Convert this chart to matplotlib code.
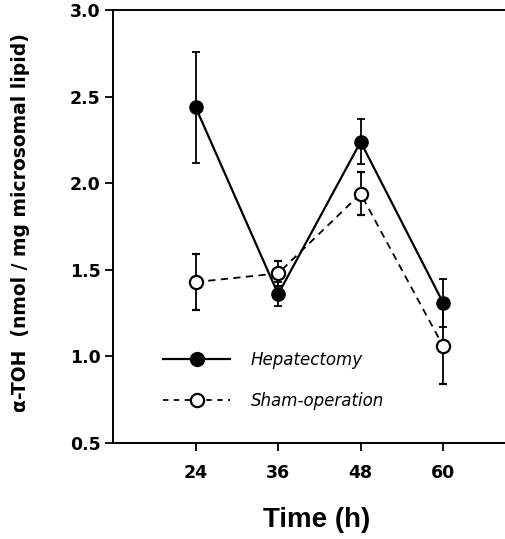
import matplotlib
matplotlib.use('Agg')
import matplotlib.pyplot as plt
from matplotlib.lines import Line2D

plt.rcParams['font.family'] = ['DejaVu Sans']

#data
time_h = [24, 36, 48, 60]
hep_mean = [2.44, 1.36, 2.24, 1.31]
hep_err = [0.32, 0.07, 0.13, 0.14]
sham_mean = [1.43, 1.48, 1.94, 1.06]
sham_err = [0.16, 0.07, 0.125, 0.22]
x_ticks = [24, 36, 48, 60]
y_ticks = [0.5, 1.0, 1.5, 2.0, 2.5, 3.0]

fig = plt.figure(figsize=(5.05, 5.39), dpi=100)
ax = fig.add_axes([0.224, 0.178, 0.776, 0.803])

ax.errorbar(time_h, hep_mean, yerr=hep_err, color='black', marker='o',
            markersize=9.5, markerfacecolor='black', linewidth=1.6,
            elinewidth=1.3, capsize=3, capthick=1.3, zorder=3)
ax.errorbar(time_h, sham_mean, yerr=sham_err, color='black', marker='o',
            markersize=9.5, markerfacecolor='white', markeredgewidth=1.6,
            linestyle='--', dashes=(4, 3), linewidth=1.3,
            elinewidth=1.3, capsize=3, capthick=1.3, zorder=2)

ax.set_xlim(12, 69)
ax.set_ylim(0.5, 3.0)
ax.set_xticks(x_ticks)
ax.set_yticks(y_ticks)
ax.set_yticklabels([f'{v:.1f}' for v in y_ticks])
ax.tick_params(direction='out', length=6, width=1.3, labelsize=12.5)
for lab in ax.get_xticklabels() + ax.get_yticklabels():
    lab.set_fontweight('bold')
ax.tick_params(axis='x', pad=9)
ax.tick_params(axis='y', pad=3)

ax.spines['right'].set_visible(False)
for s in ['left', 'bottom', 'top']:
    ax.spines[s].set_linewidth(1.4)

ax.set_xlabel('Time (h)', fontsize=20, fontweight='bold', family='Liberation Sans')
ax.xaxis.set_label_coords(0.52, -0.148)
ax.set_ylabel('α-TOH  (nmol / mg microsomal lipid)', fontsize=13.5,
              fontweight='bold')
ax.yaxis.set_label_coords(-0.213, 0.51)

handles = [
    Line2D([], [], color='black', marker='o', markersize=10, markerfacecolor='black',
           linewidth=1.6),
    Line2D([], [], color='black', marker='o', markersize=9.5, markerfacecolor='white',
           markeredgewidth=1.6, linestyle='--', dashes=(3, 3), linewidth=1.3),
]
ax.legend(handles, ['Hepatectomy', 'Sham-operation'], loc='upper left',
          bbox_to_anchor=(0.128, 0.213), frameon=False, borderaxespad=0, borderpad=0,
          handlelength=4.0, handletextpad=1.25, labelspacing=1.4,
          prop={'size': 12, 'style': 'italic'})

plt.savefig('out.png', dpi=100)
